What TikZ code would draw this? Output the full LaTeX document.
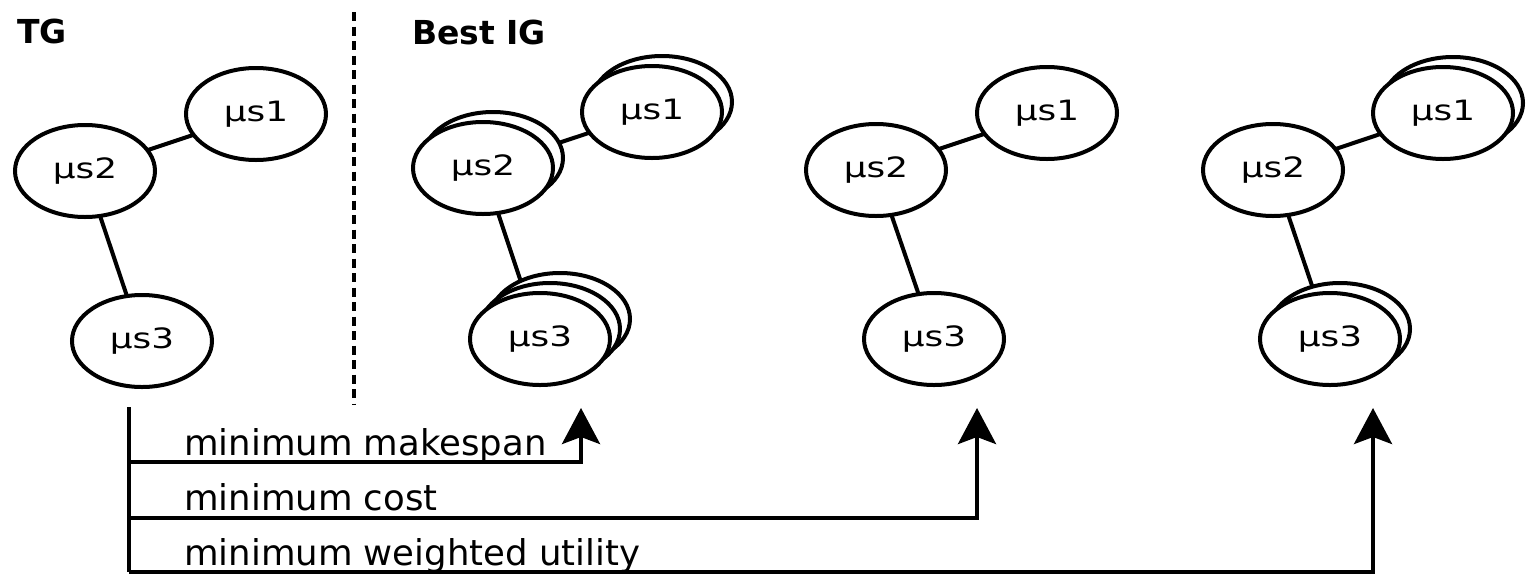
\documentclass[tikz,border=0pt]{standalone}
\usepackage{fontspec}
\usepackage{graphicx}
\setmainfont{DejaVu Sans}
\usetikzlibrary{arrows.meta,backgrounds,shapes.geometric}

\tikzset{
  svc/.style={ellipse, draw, fill=white, line width=4pt,
    minimum width=140pt, minimum height=92pt, inner sep=0pt,
    font=\fontsize{28}{30}\selectfont},
  replica/.style={svc},
  edge/.style={line width=4pt},
  wire/.style={line width=4pt},
  flow/.style={line width=4pt, -{Stealth[length=36pt, width=38pt, inset=7pt]}},
  lbl/.style={anchor=base west, inner sep=0pt, font=\fontsize{35.5}{40}\selectfont},
  ttl/.style={anchor=base west, inner sep=0pt, font=\fontsize{33}{36}\selectfont\bfseries},
  divider/.style={line width=4.5pt, dash pattern=on 9pt off 5.5pt}
}
\newcommand{\svclabel}[1]{\scalebox{1.28}[1]{#1}}

\begin{document}
\begin{tikzpicture}[x=1pt, y=-1pt]
  \useasboundingbox (0,0) rectangle (1528,574);

  % titles and divider
  \node[ttl] (tg) at (17,43) {TG};
  \node[ttl] (ig) at (412,44) {Best IG};
  \coordinate (dtop) at (354,12);
  \coordinate (dbot) at (354,405);
  \draw[divider] (dtop) -- (dbot);

  % task graph
  \node[svc] (t1) at (256,114) {\svclabel{µs1}};
  \node[svc] (t2) at (85,171)  {\svclabel{µs2}};
  \node[svc] (t3) at (142,341) {\svclabel{µs3}};

  % best instance graph for minimum makespan
  \node[replica] (b1r) at (662,102) {};
  \node[svc] (b1) at (652,112) {\svclabel{µs1}};
  \node[replica] (b2r) at (493,158) {};
  \node[svc] (b2) at (483,168) {\svclabel{µs2}};
  \node[replica] (b3rr) at (560,319) {};
  \node[replica] (b3r) at (550,329) {};
  \node[svc] (b3) at (540,339) {\svclabel{µs3}};

  % best instance graph for minimum cost
  \node[svc] (c1) at (1047,113) {\svclabel{µs1}};
  \node[svc] (c2) at (876,170)  {\svclabel{µs2}};
  \node[svc] (c3) at (934,339)  {\svclabel{µs3}};

  % best instance graph for minimum weighted utility
  \node[replica] (d1r) at (1453,103) {};
  \node[svc] (d1) at (1443,113) {\svclabel{µs1}};
  \node[svc] (d2) at (1273,170) {\svclabel{µs2}};
  \node[replica] (d3r) at (1340,329) {};
  \node[svc] (d3) at (1330,339) {\svclabel{µs3}};

  % communication edges, hidden behind the filled ellipses
  \begin{scope}[on background layer]
    \draw[edge] (t2.center) -- (t1.center);
    \draw[edge] (t2.center) -- (t3.center);
    \draw[edge] (b2.center) -- (b1.center);
    \draw[edge] (b2.center) -- (b3.center);
    \draw[edge] (c2.center) -- (c1.center);
    \draw[edge] (c2.center) -- (c3.center);
    \draw[edge] (d2.center) -- (d1.center);
    \draw[edge] (d2.center) -- (d3.center);
  \end{scope}

  % optimisation arrows
  \coordinate (j0) at (129,407);
  \coordinate (j1) at (129,462);
  \coordinate (j2) at (129,518);
  \coordinate (j3) at (129,572);
  \coordinate (a1) at (581,408);
  \coordinate (a2) at (977,408);
  \coordinate (a3) at (1373,408);
  \draw[wire] (j0) -- (j3);
  \draw[flow] (j1) -| (a1);
  \draw[flow] (j2) -| (a2);
  \draw[flow] (j3) -| (a3);

  \node[lbl] (m1) at (184,455) {minimum makespan};
  \node[lbl] (m2) at (184,510) {minimum cost};
  \node[lbl] (m3) at (184,565) {minimum weighted utility};
\end{tikzpicture}
\end{document}
